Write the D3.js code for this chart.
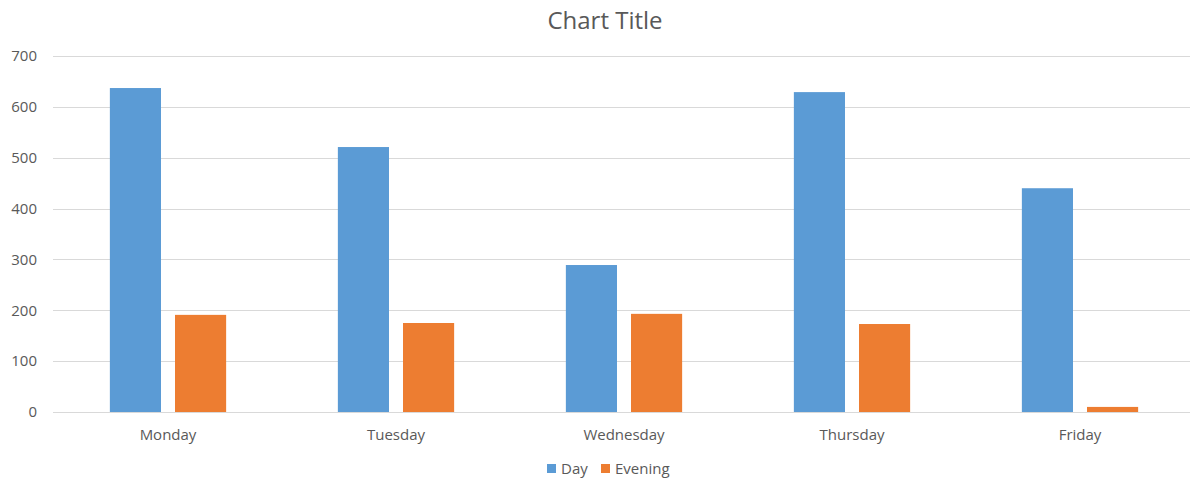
<!DOCTYPE html>
<html>
<head>
<meta charset="utf-8">
<script src="https://cdn.jsdelivr.net/npm/d3@7"></script>
<style>
  body { margin: 0; background: #fff; }
  text { font-family: "Open Sans", "Noto Sans", sans-serif; fill: #595959; }
</style>
</head>
<body>
<svg id="chart" width="1190" height="479"></svg>
<script>
var categories = ["Monday", "Tuesday", "Wednesday", "Thursday", "Friday"];
var keys = ["Day", "Evening"];
var dayValues = [637, 521, 289, 629, 440];
var eveningValues = [191, 175, 193, 173, 10];
var yTicks = [0, 100, 200, 300, 400, 500, 600, 700];

var colors = ["#5b9bd5", "#ed7d31"];

var data = categories.map(function(c, i) {
    return {cat: c, Day: dayValues[i], Evening: eveningValues[i]};
});

var svg = d3.select("#chart");
var plotLeft = 54, plotRight = 1194, plotTop = 56, plotBottom = 412;

var x0 = d3.scaleBand()
    .domain(categories)
    .range([plotLeft, plotRight])
    .paddingInner(0.49)
    .paddingOuter(0.245);

var x1 = d3.scaleBand()
    .domain(keys)
    .range([0, x0.bandwidth()])
    .paddingInner(0.215)
    .paddingOuter(0);

var y = d3.scaleLinear()
    .domain([0, 700])
    .range([plotBottom, plotTop]);

var z = d3.scaleOrdinal().domain(keys).range(colors);

// gridlines
svg.append("g")
    .selectAll("line")
    .data(yTicks)
    .enter().append("line")
    .attr("x1", plotLeft - 1)
    .attr("x2", 1190)
    .attr("y1", function(d) { return Math.round(y(d)) + 0.5; })
    .attr("y2", function(d) { return Math.round(y(d)) + 0.5; })
    .attr("stroke", "#d9d9d9")
    .attr("stroke-width", 1);

// y labels
svg.append("g")
    .selectAll("text")
    .data(yTicks)
    .enter().append("text")
    .attr("x", 37)
    .attr("y", function(d) { return y(d); })
    .attr("dy", "0.35em")
    .attr("text-anchor", "end")
    .attr("font-size", 15)
    .text(function(d) { return d; });

// bars
svg.append("g")
    .selectAll("g")
    .data(data)
    .enter().append("g")
    .attr("transform", function(d) { return "translate(" + x0(d.cat) + ",0)"; })
    .selectAll("rect")
    .data(function(d) { return keys.map(function(k) { return {key: k, value: d[k]}; }); })
    .enter().append("rect")
    .attr("x", function(d) { return x1(d.key); })
    .attr("y", function(d) { return y(d.value); })
    .attr("width", x1.bandwidth())
    .attr("height", function(d) { return plotBottom - y(d.value); })
    .attr("fill", function(d) { return z(d.key); });

// category labels
svg.append("g")
    .selectAll("text")
    .data(categories)
    .enter().append("text")
    .attr("x", function(d) { return x0(d) + x0.bandwidth() / 2; })
    .attr("y", 440)
    .attr("text-anchor", "middle")
    .attr("font-size", 15)
    .text(function(d) { return d; });

// title
svg.append("text")
    .attr("x", 605)
    .attr("y", 29)
    .attr("text-anchor", "middle")
    .attr("font-size", 24)
    .text("Chart Title");

// legend
var legendX = [547, 601];
var legend = svg.append("g")
    .selectAll("g")
    .data(keys)
    .enter().append("g")
    .attr("transform", function(d, i) { return "translate(" + legendX[i] + ",464)"; });

legend.append("rect")
    .attr("width", 9)
    .attr("height", 9)
    .attr("fill", z);

legend.append("text")
    .attr("x", 14)
    .attr("y", 4.5)
    .attr("dy", "0.35em")
    .attr("font-size", 15)
    .text(function(d) { return d; });
</script>
</body>
</html>
